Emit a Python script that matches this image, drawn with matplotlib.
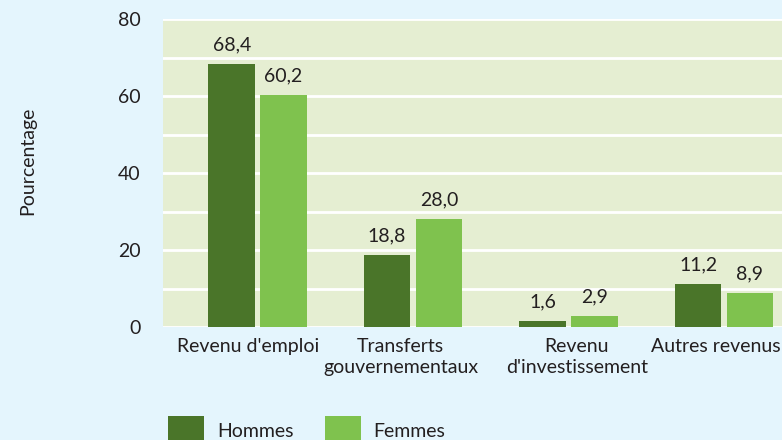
import numpy as np
import matplotlib
matplotlib.use("Agg")
import matplotlib.pyplot as plt
import matplotlib.transforms as mtransforms

categories = ["Revenu d'emploi", "Transferts\ngouvernementaux", "Revenu\nd'investissement", "Autres revenus"]
hommes = [68.4, 18.8, 1.6, 11.2]
femmes = [60.2, 28.0, 2.9, 8.9]
series_names = ["Hommes", "Femmes"]
yticks = [0, 20, 40, 60, 80]

plt.rcParams['font.family'] = ['Lato', 'DejaVu Sans']
dark = "#4a7529"
light = "#7fc24e"
fig_bg = "#e4f5fd"
ax_bg = "#e5eed2"
txt = "#231f20"
fs = 14

fig = plt.figure(figsize=(7.82, 4.4), dpi=100, facecolor=fig_bg)
ax = fig.add_axes([163/782, 1 - 327/440, 1 - 163/782, 308/440])
ax.set_facecolor(ax_bg)

x = np.arange(len(categories))
w = 0.30
gap = 0.033
b1 = ax.bar(x - (w + gap) / 2, hommes, w, color=dark, label=series_names[0], zorder=3)
b2 = ax.bar(x + (w + gap) / 2, femmes, w, color=light, label=series_names[1], zorder=3)

for bars, vals in [(b1, hommes), (b2, femmes)]:
    for r, v in zip(bars, vals):
        ax.annotate(f"{v:.1f}".replace(".", ","), (r.get_x() + r.get_width() / 2, v),
                    xytext=(0, 7.5), textcoords="offset points", ha="center", va="bottom",
                    fontsize=fs, color=txt)

ax.set_xlim(-0.608, 3.373)
ax.set_ylim(0, 80)
ax.set_yticks(yticks)
ax.set_yticks(range(10, 80, 20), minor=True)
ax.grid(axis="y", which="both", color="white", linewidth=2, zorder=1)
ax.set_axisbelow(True)
ax.tick_params(axis="y", which="both", length=0, pad=16, labelsize=fs, labelcolor=txt)
ax.tick_params(axis="x", length=0, pad=8, labelsize=fs, labelcolor=txt)
ax.set_xticks(x)
ax.set_xticklabels(categories, linespacing=1.25)

# small horizontal nudges of the category labels (points)
nudges = [-7, -9, 6, -6]
for lbl, dx in zip(ax.get_xticklabels(), nudges):
    lbl.set_transform(lbl.get_transform() + mtransforms.ScaledTranslation(dx / 72, 0, fig.dpi_scale_trans))

for s in ax.spines.values():
    s.set_visible(False)

ax.set_ylabel("Pourcentage", fontsize=fs, color=txt)
ax.yaxis.set_label_coords(-0.205, 0.54)

fig.legend(loc="upper left", bbox_to_anchor=(168/782, 1 - 416/440), ncol=2, frameon=False,
           fontsize=fs, handlelength=1.85, handleheight=2.0, handletextpad=0.67,
           columnspacing=1.6, borderpad=0, borderaxespad=0, labelcolor=txt)

fig.savefig("out.png", dpi=100, facecolor=fig_bg)
